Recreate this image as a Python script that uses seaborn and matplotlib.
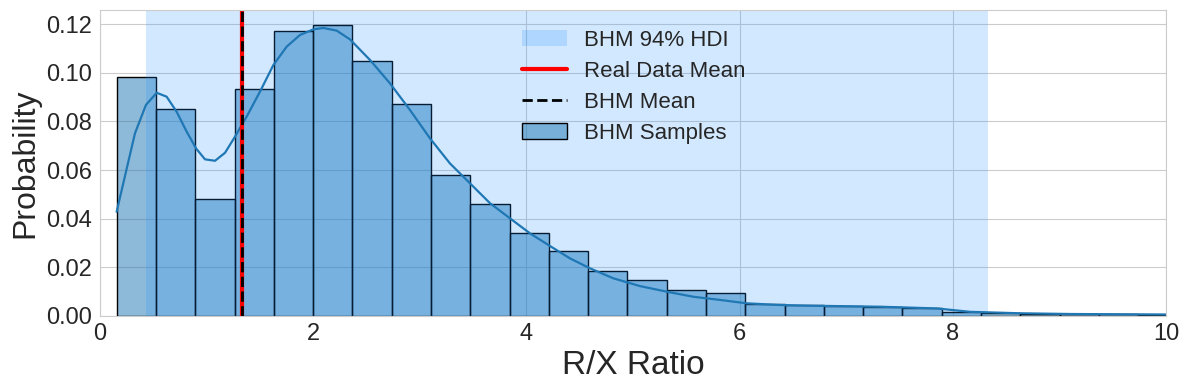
import numpy as np
import pandas as pd
import matplotlib
matplotlib.use("Agg")
import matplotlib.pyplot as plt
import seaborn as sns

# ---- data ----
bin_start = 0.157
bin_width = 0.3685
bar_heights = [0.0982, 0.0851, 0.0479, 0.0932, 0.1171, 0.1196, 0.1048, 0.0871,
               0.0578, 0.0459, 0.0339, 0.0266, 0.0183, 0.0146, 0.0105, 0.0092,
               0.0048, 0.0044, 0.0040, 0.0035, 0.0030, 0.0017, 0.0011, 0.0007,
               0.0006, 0.0005, 0.0004]

kde_x = [0.156, 0.328, 0.431, 0.532, 0.625, 0.719, 0.813, 0.901, 0.985, 1.079,
         1.173, 1.266, 1.376, 1.501, 1.626, 1.751, 1.876, 2.0, 2.095, 2.22,
         2.345, 2.533, 2.72, 2.908, 3.096, 3.283, 3.471, 3.659, 3.846, 4.034,
         4.221, 4.409, 4.597, 4.815, 5.065, 5.315, 5.566, 5.816, 6.066, 6.378,
         6.691, 7.316, 7.85, 8.16, 8.63, 9.1, 10.0]
kde_y = [0.0428, 0.0751, 0.0868, 0.0918, 0.0902, 0.0840, 0.0758, 0.0689, 0.0644, 0.0638,
         0.0671, 0.0737, 0.0820, 0.0923, 0.1032, 0.1108, 0.1156, 0.1179, 0.1185, 0.1174,
         0.1138, 0.1053, 0.0957, 0.0847, 0.0730, 0.0627, 0.0545, 0.0463, 0.0401, 0.0339,
         0.0287, 0.0236, 0.0195, 0.0154, 0.0122, 0.0099, 0.0078, 0.0065, 0.0051, 0.0044,
         0.0041, 0.0037, 0.0030, 0.0016, 0.0010, 0.0007, 0.0005]

real_mean = 1.335
bhm_mean = 1.335
hdi_low, hdi_high = 0.43, 8.33

n_bins = len(bar_heights)
edges = bin_start + bin_width * np.arange(n_bins + 1)
centers = (edges[:-1] + edges[1:]) / 2
df = pd.DataFrame({"ratio": centers, "w": bar_heights})

sns.set_style("whitegrid")
plt.rcParams["font.family"] = ["Liberation Sans", "DejaVu Sans"]

fig, ax = plt.subplots(figsize=(11.89, 3.90), dpi=100)
fig.subplots_adjust(left=0.0841, right=0.9807, top=0.9744, bottom=0.1905)

sns.histplot(data=df, x="ratio", weights="w", binwidth=bin_width,
             binrange=(float(edges[0]), float(edges[-1])), stat="count",
             color="C0", alpha=0.5, edgecolor="black", linewidth=1.0,
             ax=ax)
hist_handle = ax.patches[0]

sns.lineplot(x=kde_x, y=kde_y, color="C0", linewidth=1.6, ax=ax)

span = ax.axvspan(hdi_low, hdi_high, color="dodgerblue", alpha=0.2, lw=0)
l_real = ax.axvline(real_mean, color="red", linewidth=3)
l_bhm = ax.axvline(bhm_mean, color="black", linestyle="--", linewidth=2)

ax.set_xlim(0, 10)
ax.set_ylim(0, 0.1259)
ax.set_xticks([0, 2, 4, 6, 8, 10])
yt = [0, 0.02, 0.04, 0.06, 0.08, 0.10, 0.12]
ax.set_yticks(yt)
ax.set_yticklabels([f"{v:.2f}" for v in yt])
ax.tick_params(labelsize=17, pad=2)
ax.set_xlabel("R/X Ratio", fontsize=24, labelpad=3)
ax.set_ylabel("Probability", fontsize=23, labelpad=4)

ax.legend([span, l_real, l_bhm, hist_handle],
          ["BHM 94% HDI", "Real Data Mean", "BHM Mean", "BHM Samples"],
          loc="upper center", fontsize=16, frameon=False,
          bbox_to_anchor=(0.501, 1.0), labelspacing=0.45)

fig.savefig("out.png", dpi=100)
